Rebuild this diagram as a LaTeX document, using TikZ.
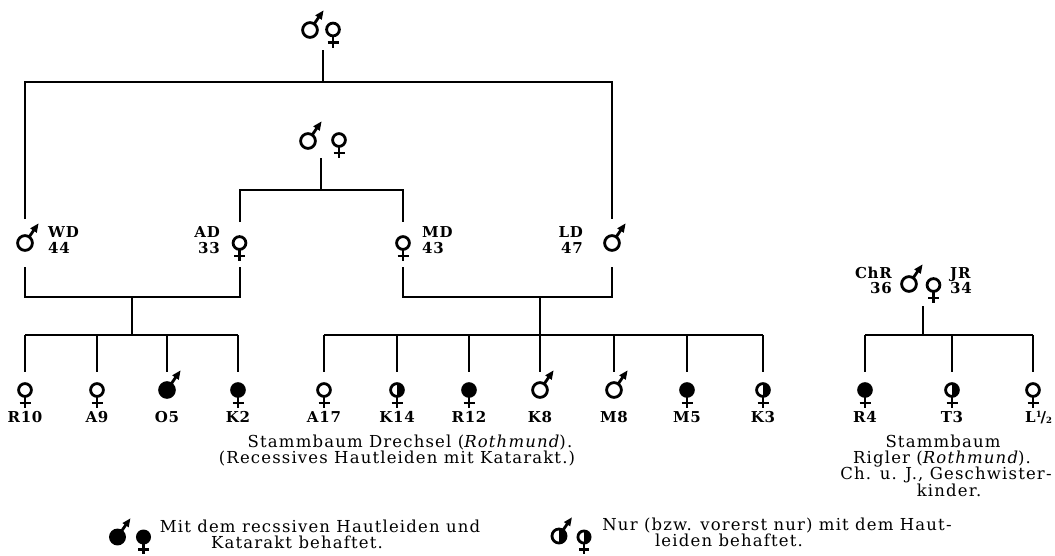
\documentclass[tikz,border=0pt]{standalone}
\usepackage{fontspec}
\setmainfont{DejaVu Serif}
\newfontfamily\capfont{DejaVu Serif}[LetterSpace=7]
\newfontfamily\lblfont{DejaVu Serif}[LetterSpace=5]
\newcommand{\captxt}{\capfont\fontsize{16.5}{18}\selectfont}
\newcommand{\lbltxt}{\lblfont\bfseries\fontsize{15}{16}\selectfont}
\newcommand{\smalltxt}{\lblfont\bfseries\fontsize{8.5}{9}\selectfont}
\tikzset{
  ped/.style={line width=2pt},
  sym/.style={line width=2.8pt},
  lbltext/.style={inner sep=0pt, font=\lbltxt},
  captext/.style={inner sep=0pt, font=\captxt},
  pics/male/.style={code={
    \draw[sym,fill=#1] (0,0) circle (7.4);
    \draw[sym] (4.2,-6.1) -- (9.5,-13.9);
    \fill (13.5,-19.5) -- (5.18,-14.66) -- (11.78,-10.14) -- cycle;
  }},
  pics/malehalf/.style={code={
    \begin{scope}\clip (0,-9) rectangle (9,9); \fill (0,0) circle (7.4); \end{scope}
    \draw[sym] (0,0) circle (7.4);
    \draw[sym] (4.2,-6.1) -- (9.5,-13.9);
    \fill (13.5,-19.5) -- (5.18,-14.66) -- (11.78,-10.14) -- cycle;
  }},
  pics/fem/.style={code={
    \draw[sym] (0,6.4) -- (0,18) (-5.5,13) -- (5.5,13);
    \draw[sym,fill=#1] (0,0) circle (6.4);
  }},
  pics/femhalf/.style={code={
    \draw[sym] (0,6.4) -- (0,18) (-5.5,13) -- (5.5,13);
    \begin{scope}\clip (0,-9) rectangle (9,9); \fill (0,0) circle (6.4); \end{scope}
    \draw[sym] (0,0) circle (6.4);
  }},
}
\begin{document}
\begin{tikzpicture}[x=1pt,y=-1pt]
\useasboundingbox (0,0) rectangle (1055,555);

% ---- generation I
\pic at (310,30) {male=white};
\pic at (333,29.5) {fem=white};
\coordinate (t0) at (323,50);
\coordinate (t1) at (323,82);
\coordinate (tL) at (25,82);
\coordinate (tR) at (612,82);
\coordinate (wdT) at (25,219);
\coordinate (ldT) at (612,219);
\draw[ped] (t0) -- (t1);
\draw[ped] (wdT) -- (tL) -- (tR) -- (ldT);

\pic at (308,141) {male=white};
\pic at (339,140) {fem=white};
\coordinate (s0) at (321,158);
\coordinate (s1) at (321,190);
\coordinate (sL) at (239.5,190);
\coordinate (sR) at (403,190);
\coordinate (adT) at (239.5,222);
\coordinate (mdT) at (403,222);
\draw[ped] (s0) -- (s1);
\draw[ped] (adT) -- (sL) -- (sR) -- (mdT);

% ---- generation II
\pic at (25,243) {male=white};
\pic at (239.5,243) {fem=white};
\pic at (403,243) {fem=white};
\pic at (612,243) {male=white};
\node[lbltext,anchor=base west] (wd) at (48,237) {WD};
\node[lbltext,anchor=base west] (wdn) at (48,253) {44};
\node[lbltext,anchor=base east] (ad) at (220,237) {AD};
\node[lbltext,anchor=base east] (adn) at (220,253) {33};
\node[lbltext,anchor=base west] (md) at (422,237) {MD};
\node[lbltext,anchor=base west] (mdn) at (422,253) {43};
\node[lbltext,anchor=base east] (ld) at (583,237) {LD};
\node[lbltext,anchor=base east] (ldn) at (583,253) {47};

\coordinate (wdB) at (25,267);
\coordinate (wdJ) at (25,297);
\coordinate (adB) at (239.5,267);
\coordinate (adJ) at (239.5,297);
\coordinate (lJ) at (132,297);
\coordinate (lK) at (132,335);
\draw[ped] (wdB) -- (wdJ) -- (adJ) -- (adB);
\draw[ped] (lJ) -- (lK);

\coordinate (mdB) at (403,267);
\coordinate (mdJ) at (403,297);
\coordinate (ldB) at (612,267);
\coordinate (ldJ) at (612,297);
\coordinate (rJ) at (540,297);
\coordinate (rK) at (540,335);
\draw[ped] (mdB) -- (mdJ) -- (ldJ) -- (ldB);
\draw[ped] (rJ) -- (rK);

% ---- children lines
\foreach \x/\n in {25/R10,97/A9,167/O5,238/K2,324/A17,397/K14,469/R12,540/K8,614/M8,687/M5,763/K3,865/R4,952/T3,1033/L}{
  \coordinate (\n a) at (\x,335);
  \coordinate (\n b) at (\x,372);
  \draw[ped] (\n a) -- (\n b);
}
\draw[ped] (R10a) -- (K2a);
\draw[ped] (A17a) -- (K3a);
\draw[ped] (R4a) -- (La);

% ---- children symbols
\pic at (25,390) {fem=white};
\pic at (97,390) {fem=white};
\pic at (167,390) {male=black};
\pic at (238,390) {fem=black};
\pic at (324,390) {fem=white};
\pic at (397,390) {femhalf};
\pic at (469,390) {fem=black};
\pic at (540,390) {male=white};
\pic at (614,390) {male=white};
\pic at (687,390) {fem=black};
\pic at (763,390) {femhalf};
\pic at (865,390) {fem=black};
\pic at (952,390) {femhalf};
\pic at (1033,390) {fem=white};

\node[lbltext,anchor=base] (lR10) at (25,422) {R10};
\node[lbltext,anchor=base] (lA9) at (97,422) {A9};
\node[lbltext,anchor=base] (lO5) at (167,422) {O5};
\node[lbltext,anchor=base] (lK2) at (238,422) {K2};
\node[lbltext,anchor=base] (lA17) at (324,422) {A17};
\node[lbltext,anchor=base] (lK14) at (397,422) {K14};
\node[lbltext,anchor=base] (lR12) at (469,422) {R12};
\node[lbltext,anchor=base] (lK8) at (540,422) {K8};
\node[lbltext,anchor=base] (lM8) at (614,422) {M8};
\node[lbltext,anchor=base] (lM5) at (687,422) {M5};
\node[lbltext,anchor=base] (lK3) at (763,422) {K3};
\node[lbltext,anchor=base] (lR4) at (865,422) {R4};
\node[lbltext,anchor=base] (lT3) at (952,422) {T3};
\node[lbltext,anchor=base west] (lL) at (1025,422) {L\raisebox{5pt}{\smalltxt 1}\kern-1pt/\raisebox{-1.5pt}{\smalltxt 2}};

% ---- Rigler parents
\pic at (909,284) {male=white};
\pic at (933.5,285) {fem=white};
\node[lbltext,anchor=base east] (chr) at (892,278) {ChR};
\node[lbltext,anchor=base east] (chrn) at (892,293) {36};
\node[lbltext,anchor=base west] (jr) at (950,278) {JR};
\node[lbltext,anchor=base west] (jrn) at (950,293) {34};
\coordinate (rg0) at (923,306);
\coordinate (rg1) at (923,335);
\draw[ped] (rg0) -- (rg1);

% ---- captions
\node[captext,anchor=base] (c1) at (410,447) {Stammbaum Drechsel ({\itshape Rothmund}).};
\node[captext,anchor=base] (c2) at (397,463) {(Recessives Hautleiden mit Katarakt.)};
\node[captext,anchor=base] (r1) at (943,447) {Stammbaum};
\node[captext,anchor=base] (r2) at (942,463) {Rigler ({\itshape Rothmund}).};
\node[captext,anchor=base] (r3) at (946,479.5) {Ch. u. J., Geschwister-};
\node[captext,anchor=base] (r4) at (949,496) {kinder.};

% ---- legend
\pic[scale=0.95] at (117.5,537) {male=black};
\pic[scale=0.95] at (143.5,537) {fem=black};
\node[captext,anchor=base] (g1) at (320,532) {Mit dem recssiven Hautleiden und};
\node[captext,anchor=base] (g2) at (297,548) {Katarakt behaftet.};
\pic[scale=0.95] at (559,536) {malehalf};
\pic[scale=0.95] at (584,537) {femhalf};
\node[captext,anchor=base] (h1) at (777,530) {Nur (bzw. vorerst nur) mit dem Haut-};
\node[captext,anchor=base] (h2) at (729,546) {leiden behaftet.};
\end{tikzpicture}
\end{document}
